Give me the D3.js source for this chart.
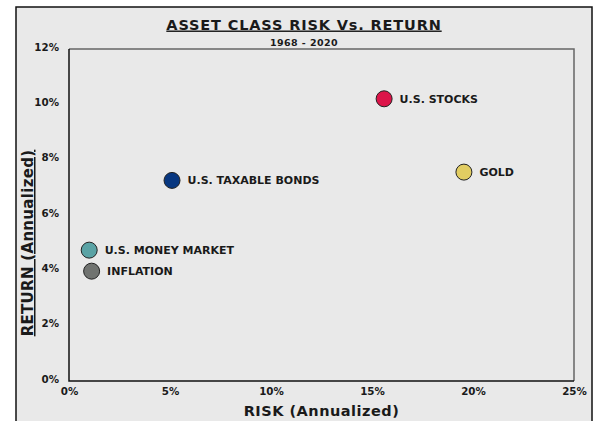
<!DOCTYPE html>
<html>
<head>
<meta charset="utf-8">
<script src="https://cdn.jsdelivr.net/npm/d3@7"></script>
<style>
  body { margin: 0; background: #fff; }
  text { font-family: "DejaVu Sans", sans-serif; font-weight: bold; fill: #1a1a1a; }
</style>
</head>
<body>
<div id="chart"></div>
<script>
// data
var names = ["U.S. STOCKS", "GOLD", "U.S. TAXABLE BONDS", "U.S. MONEY MARKET", "INFLATION"]
var risk = [15.6, 19.55, 5.1, 1.0, 1.12]
var ret = [10.2, 7.55, 7.25, 4.73, 3.97]
var colors = ["#dc1449", "#e2cd62", "#083780", "#5aa3a5", "#707370"]
var xTicks = [0, 5, 10, 15, 20, 25]
var yTicks = [0, 2, 4, 6, 8, 10, 12]

var width = 598
var height = 421
var margin = {top: 49, right: 24, bottom: 40, left: 69}

var svg = d3.select("#chart")
  .append("svg")
  .attr("width", width)
  .attr("height", height)

// outer panel
svg.append("rect")
  .attr("x", 16).attr("y", 7)
  .attr("width", 576).attr("height", 430)
  .attr("fill", "#e9e9e9")
  .attr("stroke", "#111")
  .attr("stroke-width", 1.5)

var x = d3.scaleLinear()
  .domain([0, 25])
  .range([margin.left, width - margin.right])

var y = d3.scaleLinear()
  .domain([0, 12])
  .range([height - margin.bottom, margin.top])

// plot frame: top/right grey, left/bottom black
svg.append("path")
  .attr("d", "M" + x(0) + "," + y(12) + "H" + x(25) + "V" + y(0))
  .attr("fill", "none")
  .attr("stroke", "#666")
  .attr("stroke-width", 1.5)

svg.append("path")
  .attr("d", "M" + x(0) + "," + y(12) + "V" + y(0) + "H" + x(25))
  .attr("fill", "none")
  .attr("stroke", "#111")
  .attr("stroke-width", 1.5)

// axes (labels only)
var xAxis = svg.append("g")
  .attr("transform", "translate(0," + y(0) + ")")
  .call(d3.axisBottom(x).tickValues(xTicks).tickSize(0).tickPadding(0).tickFormat(function(d) { return d + "%" }))
xAxis.select(".domain").remove()
xAxis.selectAll("text")
  .attr("dy", "1.4em")
  .style("font-size", "10.3px")
  .style("font-family", "DejaVu Sans")

var yAxis = svg.append("g")
  .attr("transform", "translate(" + x(0) + ",0)")
  .call(d3.axisLeft(y).tickValues(yTicks).tickSize(0).tickPadding(10).tickFormat(function(d) { return d + "%" }))
yAxis.select(".domain").remove()
yAxis.selectAll("text")
  .attr("dy", "0.1em")
  .style("font-size", "10.3px")
  .style("font-family", "DejaVu Sans")

// title
svg.append("text")
  .attr("x", 304)
  .attr("y", 29.5)
  .attr("text-anchor", "middle")
  .style("font-size", "14.5px")
  .style("letter-spacing", "0.85px")
  .style("text-decoration", "underline")
  .text("ASSET CLASS RISK Vs. RETURN")

svg.append("text")
  .attr("x", 304)
  .attr("y", 46)
  .attr("text-anchor", "middle")
  .style("font-size", "9.5px")
  .style("letter-spacing", "0.4px")
  .text("1968 - 2020")

// axis titles
svg.append("text")
  .attr("x", (x(0) + x(25)) / 2)
  .attr("y", 416)
  .attr("text-anchor", "middle")
  .style("font-size", "14.5px")
  .style("letter-spacing", "0.5px")
  .text("RISK (Annualized)")

svg.append("text")
  .attr("transform", "translate(33,243) rotate(-90)")
  .attr("text-anchor", "middle")
  .style("font-size", "15px")
  .style("letter-spacing", "0.3px")
  .style("text-decoration", "underline")
  .text("RETURN (Annualized)")

// points
var pts = d3.range(names.length)

svg.selectAll("circle.pt")
  .data(pts)
  .enter()
  .append("circle")
  .attr("class", "pt")
  .attr("cx", function(i) { return x(risk[i]) })
  .attr("cy", function(i) { return y(ret[i]) })
  .attr("r", 8)
  .attr("fill", function(i) { return colors[i] })
  .attr("stroke", "#222")
  .attr("stroke-width", 1)

svg.selectAll("text.lbl")
  .data(pts)
  .enter()
  .append("text")
  .attr("class", "lbl")
  .attr("x", function(i) { return x(risk[i]) + 15.5 })
  .attr("y", function(i) { return y(ret[i]) + 4 })
  .style("font-size", "11px")
  .text(function(i) { return names[i] })
</script>
</body>
</html>
